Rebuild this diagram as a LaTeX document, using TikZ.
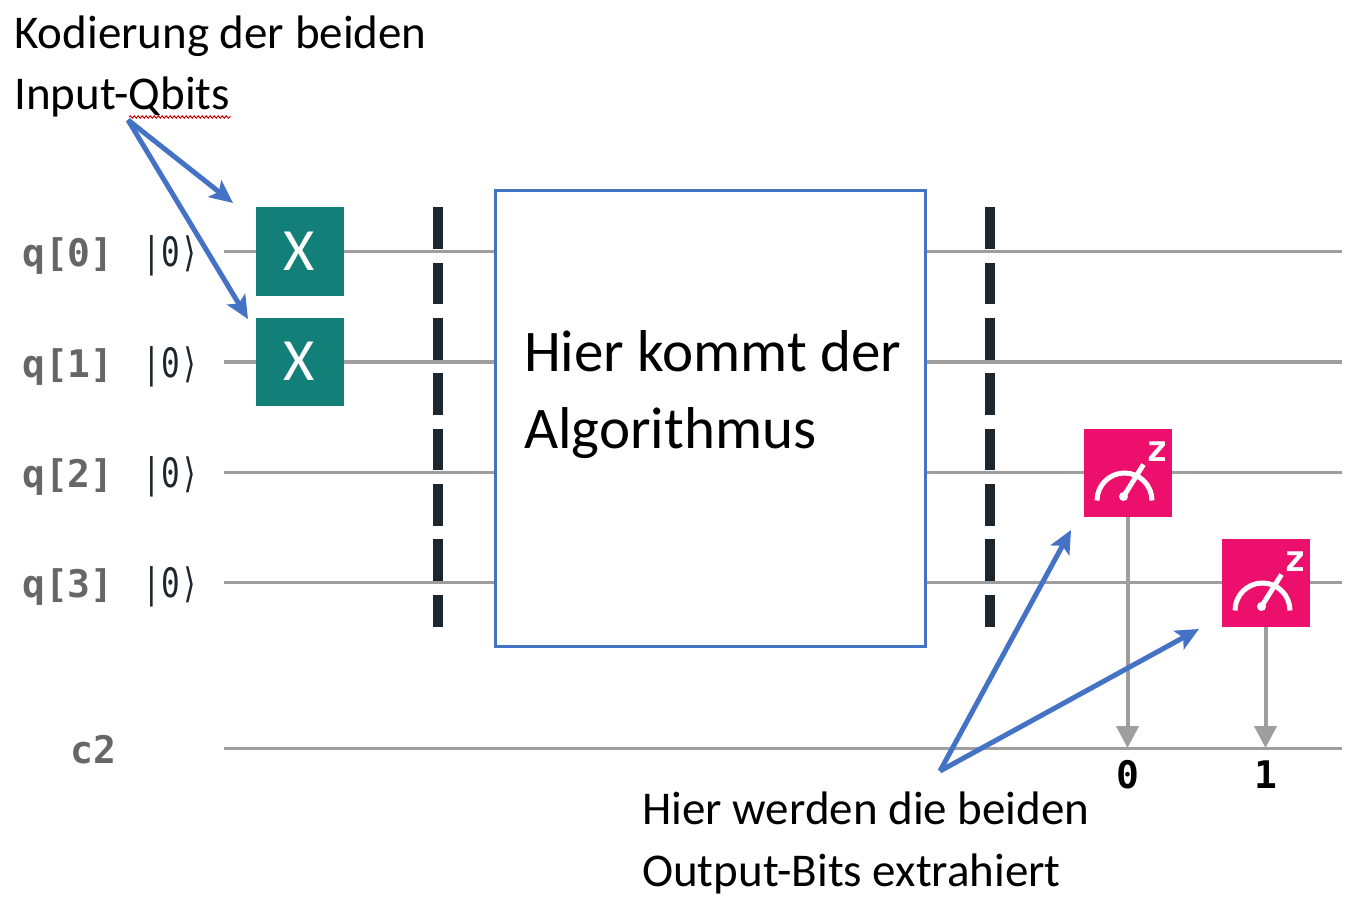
\documentclass[tikz,border=0pt]{standalone}
\usepackage{fontspec}
\setmainfont{Carlito}
\newfontfamily\monof{DejaVu Sans Mono}
\usetikzlibrary{arrows.meta,decorations.pathmorphing}
\definecolor{wire}{HTML}{9E9E9E}
\definecolor{gatex}{HTML}{127F78}
\definecolor{meterc}{HTML}{EC0F6B}
\definecolor{annot}{HTML}{4472C4}
\definecolor{barr}{HTML}{1C262C}
\definecolor{qlab}{HTML}{666666}
\tikzset{
 x=1pt,y=-1pt,
 wireline/.style={draw=wire,line width=3.6pt},
 gatebox/.style={fill=gatex,draw=none,minimum width=88pt,minimum height=88pt,inner sep=0pt,text=white,font=\fontsize{60}{60}\selectfont},
 meterbox/.style={fill=meterc,draw=none,minimum width=88pt,minimum height=88pt,inner sep=0pt},
 barrier/.style={draw=barr,line width=10pt,dash pattern=on 41.5pt off 13.8pt},
 callout/.style={draw=annot,line width=5pt,-{Stealth[length=23pt,width=21pt,inset=5pt]}},
 measure/.style={draw=wire,line width=4pt,-{Triangle[length=22pt,width=22pt]}},
 txt/.style={anchor=base west,inner sep=0pt,text=black},
 small/.style={txt,font=\fontsize{47}{47}\selectfont},
 big/.style={txt,font=\fontsize{59}{59}\selectfont},
 qname/.style={anchor=base west,inner sep=0pt,text=qlab,font=\monof\bfseries\fontsize{38}{38}\selectfont},
 ket/.style={anchor=base west,inner sep=0pt,text=barr,font=\monof\fontsize{27}{27}\selectfont},
 bitlabel/.style={anchor=base,inner sep=0pt,text=black,font=\monof\bfseries\fontsize{38}{38}\selectfont},
}
\newcommand{\meterglyph}[1]{%
 \begin{scope}[shift={(#1)}]
  \draw[white,line width=5pt] (-30.5,28) arc[start angle=180,end angle=360,radius=27.5];
  \draw[white,line width=5pt] (-4,24) -- (16,-8);
  \fill[white] (-4,24) circle (4.5pt);
  \node[inner sep=0pt,text=white,font=\monof\bfseries\fontsize{36}{36}\selectfont] at (29.5,-21) {z};
 \end{scope}}
\begin{document}
\begin{tikzpicture}
\useasboundingbox (0,0) rectangle (1366,904);
\fill[white] (0,0) rectangle (1366,904);
% wire ends
\foreach \n/\y/\w in {0/251.5/3.6,1/362/3.6,2/472.5/3.6,3/582.5/3.6,c/748.5/3}{
 \coordinate (wl\n) at (224,\y);
 \coordinate (wr\n) at (1342,\y);
 \draw[wireline,line width=\w pt] (wl\n) -- (wr\n);
}
% barriers
\coordinate (b1t) at (437.5,207.5); \coordinate (b1b) at (437.5,627);
\coordinate (b2t) at (989.5,207.5); \coordinate (b2b) at (989.5,627);
\draw[barrier] (b1t) -- (b1b);
\draw[barrier] (b2t) -- (b2b);
% algorithm box
\node[draw=annot,fill=white,line width=3pt,minimum width=430pt,minimum height=455pt,inner sep=0pt] (algo) at (710,418.5) {};
\node[big] (algo1) at (524,371) {Hier kommt der};
\node[big] (algo2) at (524,448) {Algorithmus};
% gates
\node[gatebox] (x0) at (299.5,251.5) {\raisebox{1pt}{X}};
\node[gatebox] (x1) at (299.5,361.5) {\raisebox{1pt}{X}};
\node[meterbox] (m2) at (1127.5,472.5) {};
\node[meterbox] (m3) at (1265.5,582.5) {};
\meterglyph{1127.5,472.5}
\meterglyph{1265.5,582.5}
% measurement lines
\coordinate (t0) at (1127.5,748);
\coordinate (t1) at (1265.5,748);
\draw[measure] (m2.south) -- (t0);
\draw[measure] (m3.south) -- (t1);
\node[bitlabel] (bit0) at (1127.5,788) {0};
\node[bitlabel] (bit1) at (1265.5,788) {1};
% qubit labels
\foreach \n/\y in {0/266,1/377,2/487,3/597}{
 \node[qname] (q\n) at (22,\y) {q[\n]};
 \node[ket] (k\n) at (142.5,\y) {\scalebox{1.15}[1.5]{|0⟩}};
}
\node[qname] (c2) at (70,763) {c2};
% annotations
\node[small] (t1a) at (14,48.5) {Kodierung der beiden};
\node[small] (t1b) at (14,109.5) {Input-Qbits};
\node[small] (t2a) at (642,824.5) {Hier werden die beiden};
\node[small] (t2b) at (642,886.5) {Output-Bits extrahiert};
\draw[red!80!black,line width=1pt,decorate,decoration={snake,amplitude=1.2pt,segment length=4pt}] (129,117) -- (231,117);
% callouts
\coordinate (s1) at (128,120);
\coordinate (e1) at (233,203);
\coordinate (e2) at (248,319);
\coordinate (s2) at (940,771);
\coordinate (e3) at (1071,530);
\coordinate (e4) at (1199,629);
\draw[callout] (s1) -- (e1);
\draw[callout] (s1) -- (e2);
\draw[callout] (s2) -- (e3);
\draw[callout] (s2) -- (e4);
\end{tikzpicture}
\end{document}
